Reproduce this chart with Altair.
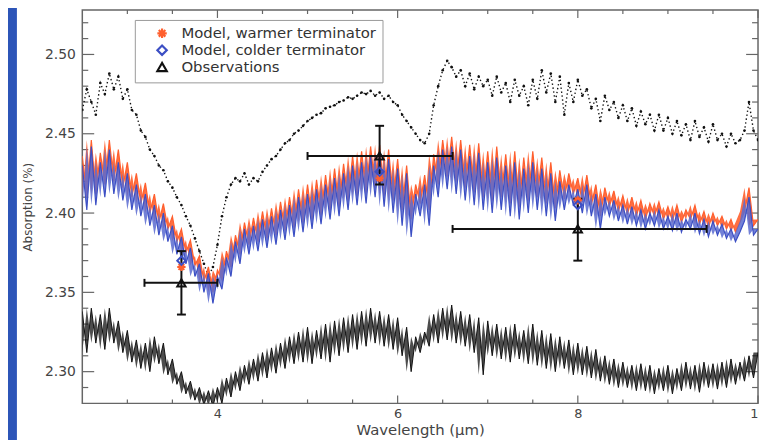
import altair as alt
import pandas as pd

# ---------------- data ----------------
wavelength = [round(2.5 + 0.05 * i, 2) for i in range(151)]

model_colder = [
    2.430, 2.402, 2.442, 2.405, 2.432, 2.410, 2.440, 2.412, 2.432, 2.408,
    2.425, 2.402, 2.418, 2.398, 2.412, 2.392, 2.405, 2.386, 2.400, 2.382,
    2.392, 2.374, 2.385, 2.368, 2.378, 2.360, 2.368, 2.350, 2.362, 2.343,
    2.360, 2.352, 2.372, 2.360, 2.382, 2.368, 2.390, 2.374, 2.392, 2.376,
    2.396, 2.378, 2.398, 2.380, 2.402, 2.383, 2.405, 2.385, 2.410, 2.388,
    2.412, 2.390, 2.415, 2.393, 2.418, 2.396, 2.422, 2.398, 2.425, 2.402,
    2.430, 2.405, 2.432, 2.406, 2.436, 2.410, 2.438, 2.404, 2.434, 2.400,
    2.428, 2.392, 2.425, 2.385, 2.412, 2.398, 2.418, 2.392, 2.430, 2.410,
    2.440, 2.415, 2.442, 2.412, 2.440, 2.408, 2.436, 2.405, 2.438, 2.402,
    2.432, 2.400, 2.435, 2.402, 2.430, 2.398, 2.432, 2.396, 2.428, 2.400,
    2.432, 2.402, 2.428, 2.398, 2.425, 2.395, 2.420, 2.402, 2.418, 2.405,
    2.415, 2.400, 2.418, 2.398, 2.412, 2.390, 2.410, 2.398, 2.408, 2.395,
    2.405, 2.393, 2.404, 2.392, 2.402, 2.390, 2.400, 2.392, 2.402, 2.390,
    2.398, 2.389, 2.400, 2.388, 2.396, 2.390, 2.400, 2.387, 2.396, 2.385,
    2.395, 2.386, 2.393, 2.384, 2.390, 2.382, 2.388, 2.395, 2.410, 2.386,
    2.390,
]

model_warmer = [
    2.436, 2.410, 2.446, 2.412, 2.438, 2.418, 2.446, 2.420, 2.440, 2.416,
    2.432, 2.410, 2.425, 2.406, 2.419, 2.400, 2.412, 2.394, 2.406, 2.390,
    2.398, 2.382, 2.390, 2.375, 2.383, 2.367, 2.373, 2.357, 2.366, 2.350,
    2.364, 2.358, 2.376, 2.366, 2.386, 2.374, 2.394, 2.380, 2.397, 2.382,
    2.401, 2.384, 2.403, 2.386, 2.407, 2.389, 2.410, 2.391, 2.415, 2.394,
    2.418, 2.396, 2.421, 2.399, 2.424, 2.402, 2.428, 2.404, 2.431, 2.408,
    2.436, 2.411, 2.439, 2.413, 2.442, 2.416, 2.443, 2.411, 2.440, 2.408,
    2.434, 2.402, 2.430, 2.396, 2.418, 2.406, 2.424, 2.402, 2.437, 2.418,
    2.446, 2.423, 2.448, 2.420, 2.446, 2.416, 2.443, 2.413, 2.444, 2.410,
    2.439, 2.408, 2.442, 2.410, 2.437, 2.406, 2.439, 2.404, 2.435, 2.408,
    2.439, 2.410, 2.435, 2.406, 2.432, 2.403, 2.427, 2.409, 2.425, 2.412,
    2.422, 2.407, 2.424, 2.405, 2.418, 2.398, 2.416, 2.404, 2.414, 2.401,
    2.411, 2.399, 2.410, 2.398, 2.408, 2.396, 2.406, 2.398, 2.407, 2.396,
    2.404, 2.395, 2.405, 2.394, 2.402, 2.396, 2.405, 2.393, 2.401, 2.391,
    2.400, 2.392, 2.398, 2.390, 2.396, 2.388, 2.394, 2.401, 2.416, 2.392,
    2.396,
]

upper_dotted = [
    2.465, 2.478, 2.470, 2.462, 2.482, 2.475, 2.488, 2.478, 2.486, 2.472,
    2.478, 2.465, 2.462, 2.452, 2.448, 2.440, 2.436, 2.430, 2.427, 2.420,
    2.416, 2.410, 2.405, 2.398, 2.392, 2.384, 2.376, 2.368, 2.360, 2.366,
    2.380, 2.398, 2.410, 2.418, 2.422, 2.420, 2.425, 2.418, 2.422, 2.420,
    2.426, 2.430, 2.434, 2.436, 2.440, 2.444, 2.446, 2.450, 2.452, 2.455,
    2.458, 2.460, 2.462, 2.463, 2.466, 2.467, 2.468, 2.470, 2.471, 2.473,
    2.472, 2.474, 2.476, 2.475, 2.477, 2.474, 2.476, 2.472, 2.474, 2.470,
    2.468, 2.462, 2.458, 2.454, 2.450, 2.446, 2.444, 2.450, 2.468, 2.480,
    2.490, 2.496, 2.492, 2.486, 2.490, 2.480, 2.488, 2.478, 2.486, 2.480,
    2.484, 2.474, 2.486, 2.476, 2.482, 2.470, 2.484, 2.474, 2.480, 2.468,
    2.484, 2.472, 2.490, 2.476, 2.488, 2.470, 2.486, 2.462, 2.482, 2.470,
    2.484, 2.474, 2.478, 2.466, 2.472, 2.458, 2.474, 2.465, 2.470, 2.460,
    2.468, 2.458, 2.466, 2.455, 2.464, 2.456, 2.462, 2.452, 2.462, 2.452,
    2.460, 2.450, 2.458, 2.449, 2.456, 2.446, 2.458, 2.448, 2.454, 2.445,
    2.456, 2.446, 2.450, 2.442, 2.450, 2.444, 2.446, 2.452, 2.470, 2.452,
    2.446,
]

lower_spectrum = [
    2.338, 2.312, 2.340, 2.318, 2.336, 2.314, 2.340, 2.318, 2.332, 2.312,
    2.326, 2.306, 2.320, 2.302, 2.318, 2.300, 2.322, 2.305, 2.318, 2.298,
    2.308, 2.292, 2.300, 2.286, 2.294, 2.282, 2.290, 2.279, 2.288, 2.278,
    2.290, 2.280, 2.296, 2.284, 2.300, 2.288, 2.304, 2.292, 2.308, 2.294,
    2.312, 2.296, 2.315, 2.299, 2.318, 2.302, 2.322, 2.305, 2.325, 2.306,
    2.328, 2.305, 2.326, 2.308, 2.330, 2.306, 2.332, 2.310, 2.334, 2.312,
    2.336, 2.314, 2.338, 2.316, 2.340, 2.318, 2.338, 2.316, 2.336, 2.314,
    2.334, 2.310, 2.328, 2.300, 2.322, 2.312, 2.325, 2.316, 2.336, 2.318,
    2.340, 2.320, 2.342, 2.318, 2.338, 2.316, 2.336, 2.312, 2.334, 2.298,
    2.332, 2.310, 2.330, 2.308, 2.328, 2.306, 2.330, 2.308, 2.326, 2.305,
    2.330, 2.304, 2.326, 2.302, 2.324, 2.300, 2.322, 2.302, 2.320, 2.298,
    2.318, 2.298, 2.316, 2.296, 2.314, 2.294, 2.310, 2.292, 2.308, 2.290,
    2.306, 2.290, 2.304, 2.288, 2.305, 2.288, 2.304, 2.286, 2.302, 2.288,
    2.304, 2.286, 2.302, 2.288, 2.306, 2.289, 2.304, 2.287, 2.306, 2.290,
    2.305, 2.289, 2.306, 2.290, 2.308, 2.292, 2.306, 2.294, 2.310, 2.296,
    2.312,
]

band_centres = [3.6, 5.8, 8.0]
band_warmer = [2.366, 2.422, 2.408]
band_colder = [2.370, 2.426, 2.405]
obs_value = [2.356, 2.436, 2.390]
obs_x_lo = [3.19, 5.00, 6.61]
obs_x_hi = [4.00, 6.61, 9.43]
obs_y_lo = [2.336, 2.418, 2.370]
obs_y_hi = [2.376, 2.455, 2.409]

series_names = ["Model, warmer terminator", "Model, colder terminator", "Observations"]

x_labels = [4, 6, 8, 10]
x_minor = [3, 3.5, 4.5, 5, 5.5, 6.5, 7, 7.5, 8.5, 9, 9.5]
y_labels = [2.30, 2.35, 2.40, 2.45, 2.50]
y_minor = [2.29, 2.31, 2.32, 2.33, 2.34, 2.36, 2.37, 2.38, 2.39, 2.41,
           2.42, 2.43, 2.44, 2.46, 2.47, 2.48, 2.49, 2.51, 2.52]

# ---------------- styling ----------------
W, H = 682, 397
RED = "#ff5f2e"
BLUE = "#3c4fc4"
AX = "#666666"
FONT = "DejaVu Sans"

spec = pd.DataFrame({
    "wl": wavelength,
    "warm": model_warmer,
    "cold": model_colder,
    "upper": upper_dotted,
    "lower": lower_spectrum,
})
# neighbouring sample, so that the band between the spikes can be filled
for c in ["warm", "cold", "lower"]:
    spec[c + "_nb"] = spec[c].shift(-1).fillna(spec[c])

markers = pd.DataFrame({
    "wl": band_centres * 3,
    "val": band_warmer + band_colder + obs_value,
    "series": [series_names[0]] * 3 + [series_names[1]] * 3 + [series_names[2]] * 3,
})
obs = pd.DataFrame({"wl": band_centres, "val": obs_value, "xlo": obs_x_lo,
                    "xhi": obs_x_hi, "ylo": obs_y_lo, "yhi": obs_y_hi})
hcaps = pd.DataFrame({"wl": obs_x_lo + obs_x_hi, "val": obs_value * 2})
vcaps = pd.DataFrame({"wl": band_centres * 2, "val": obs_y_lo + obs_y_hi})

xs = alt.Scale(domain=[2.5, 10], nice=False, zero=False)
ys = alt.Scale(domain=[2.28, 2.528], nice=False, zero=False)

xax = alt.Axis(values=x_labels, ticks=False, tickSize=0, domain=False, grid=False,
               labelFont=FONT, labelFontSize=13, labelColor="#444", labelPadding=4,
               labelFlush=False, format="d", title="Wavelength (µm)",
               titleFont=FONT, titleFontSize=15, titleFontWeight="normal",
               titleColor="#444", titlePadding=2)
yax = alt.Axis(values=y_labels, ticks=False, tickSize=0, domain=False, grid=False,
               labelFont=FONT, labelFontSize=14, labelColor="#444", labelPadding=7,
               format=".2f", title="Absorption (%)", titleFont=FONT, titleFontSize=12,
               titleFontWeight="normal", titleColor="#444", titlePadding=10)


def X(f):
    return alt.X(f, type="quantitative", scale=xs, axis=xax)


def Y(f):
    return alt.Y(f, type="quantitative", scale=ys, axis=yax)


base = alt.Chart(spec)

strip = alt.Chart(pd.DataFrame({"k": [0]})).mark_rect(color="#2c55b8").encode(
    x=alt.value(-75), x2=alt.value(-66), y=alt.value(-10), y2=alt.value(H + 50))

lower_band = base.mark_area(color="#111111", opacity=0.75, clip=True).encode(
    x=X("wl"), y=Y("lower"), y2="lower_nb")
lower_line = base.mark_line(color="#111111", strokeWidth=1, clip=True).encode(
    x=X("wl"), y=Y("lower"))
upper_dash = base.mark_line(color="#111111", strokeWidth=1.4, strokeDash=[1.4, 2.6],
                            clip=True).encode(x=X("wl"), y=Y("upper"))
upper_pts = base.mark_circle(color="#111111", size=7, opacity=1, clip=True).encode(
    x=X("wl"), y=Y("upper"))
warm_band = base.mark_area(color=RED, opacity=0.9, clip=True).encode(
    x=X("wl"), y=Y("warm"), y2="warm_nb")
warm_line = base.mark_line(color=RED, strokeWidth=1.2, clip=True).encode(
    x=X("wl"), y=Y("warm"))
cold_band = base.mark_area(color="#5a6bd0", opacity=0.85, clip=True).encode(
    x=X("wl"), y=Y("cold"), y2="cold_nb")
cold_line = base.mark_line(color=BLUE, strokeWidth=1.2, clip=True).encode(
    x=X("wl"), y=Y("cold"))

err_h = alt.Chart(obs).mark_rule(color="#111111", strokeWidth=2).encode(
    x=X("xlo"), x2="xhi", y=Y("val"))
err_v = alt.Chart(obs).mark_rule(color="#111111", strokeWidth=2).encode(
    x=X("wl"), y=Y("ylo"), y2="yhi")
cap_h = alt.Chart(hcaps).mark_point(shape="M0,-1L0,1", size=64, strokeWidth=2,
                                    color="#111111", filled=False, opacity=1).encode(
    x=X("wl"), y=Y("val"))
cap_v = alt.Chart(vcaps).mark_point(shape="M-1,0L1,0", size=81, strokeWidth=2,
                                    color="#111111", filled=False, opacity=1).encode(
    x=X("wl"), y=Y("val"))

asterisk = "M-1,0L1,0M0,-1L0,1M-0.7,-0.7L0.7,0.7M-0.7,0.7L0.7,-0.7"
leg = alt.Legend(title=None, orient="none", legendX=53, legendY=10, padding=6,
                 strokeColor="#999999", fillColor="white", labelFont=FONT,
                 labelFontSize=15, labelColor="#333", labelLimit=400, symbolSize=90,
                 symbolStrokeWidth=2.2, rowPadding=-4, symbolOffset=14, labelOffset=12)
mark_pts = alt.Chart(markers).mark_point(filled=False, strokeWidth=2, size=70,
                                         opacity=1).encode(
    x=X("wl"), y=Y("val"),
    color=alt.Color("series:N", scale=alt.Scale(domain=series_names,
                                                range=[RED, BLUE, "#111111"]),
                    legend=leg),
    shape=alt.Shape("series:N", scale=alt.Scale(domain=series_names,
                                                range=[asterisk, "diamond", "triangle-up"]),
                    legend=leg),
)

# inward ticks on all four sides
xmaj = alt.Chart(pd.DataFrame({"v": x_labels}))
xmin = alt.Chart(pd.DataFrame({"v": x_minor}))
ymaj = alt.Chart(pd.DataFrame({"v": y_labels}))
ymin = alt.Chart(pd.DataFrame({"v": y_minor}))
tick_layers = [
    xmaj.mark_rule(color=AX, strokeWidth=1.2).encode(x=X("v"), y=alt.value(H), y2=alt.value(H - 8)),
    xmaj.mark_rule(color=AX, strokeWidth=1.2).encode(x=X("v"), y=alt.value(0), y2=alt.value(8)),
    xmin.mark_rule(color=AX, strokeWidth=1.2).encode(x=X("v"), y=alt.value(H), y2=alt.value(H - 4)),
    xmin.mark_rule(color=AX, strokeWidth=1.2).encode(x=X("v"), y=alt.value(0), y2=alt.value(4)),
    ymaj.mark_rule(color=AX, strokeWidth=1.2).encode(y=Y("v"), x=alt.value(0), x2=alt.value(12)),
    ymaj.mark_rule(color=AX, strokeWidth=1.2).encode(y=Y("v"), x=alt.value(W), x2=alt.value(W - 12)),
    ymin.mark_rule(color=AX, strokeWidth=1.2).encode(y=Y("v"), x=alt.value(0), x2=alt.value(6)),
    ymin.mark_rule(color=AX, strokeWidth=1.2).encode(y=Y("v"), x=alt.value(W), x2=alt.value(W - 6)),
]

chart = alt.layer(
    strip, *tick_layers, lower_band, lower_line, upper_dash, upper_pts, warm_band,
    warm_line, cold_band, cold_line, err_h, err_v, cap_h, cap_v, mark_pts,
).properties(
    width=W, height=H,
    autosize=alt.AutoSizeParams(type="none"),
    padding={"left": 75, "top": 0, "right": 1, "bottom": 45},
    background="white",
).configure_view(
    stroke=AX, strokeWidth=1.5, fill="white",
)

chart.save("out.html", embed_options={"renderer": "svg", "actions": False})
